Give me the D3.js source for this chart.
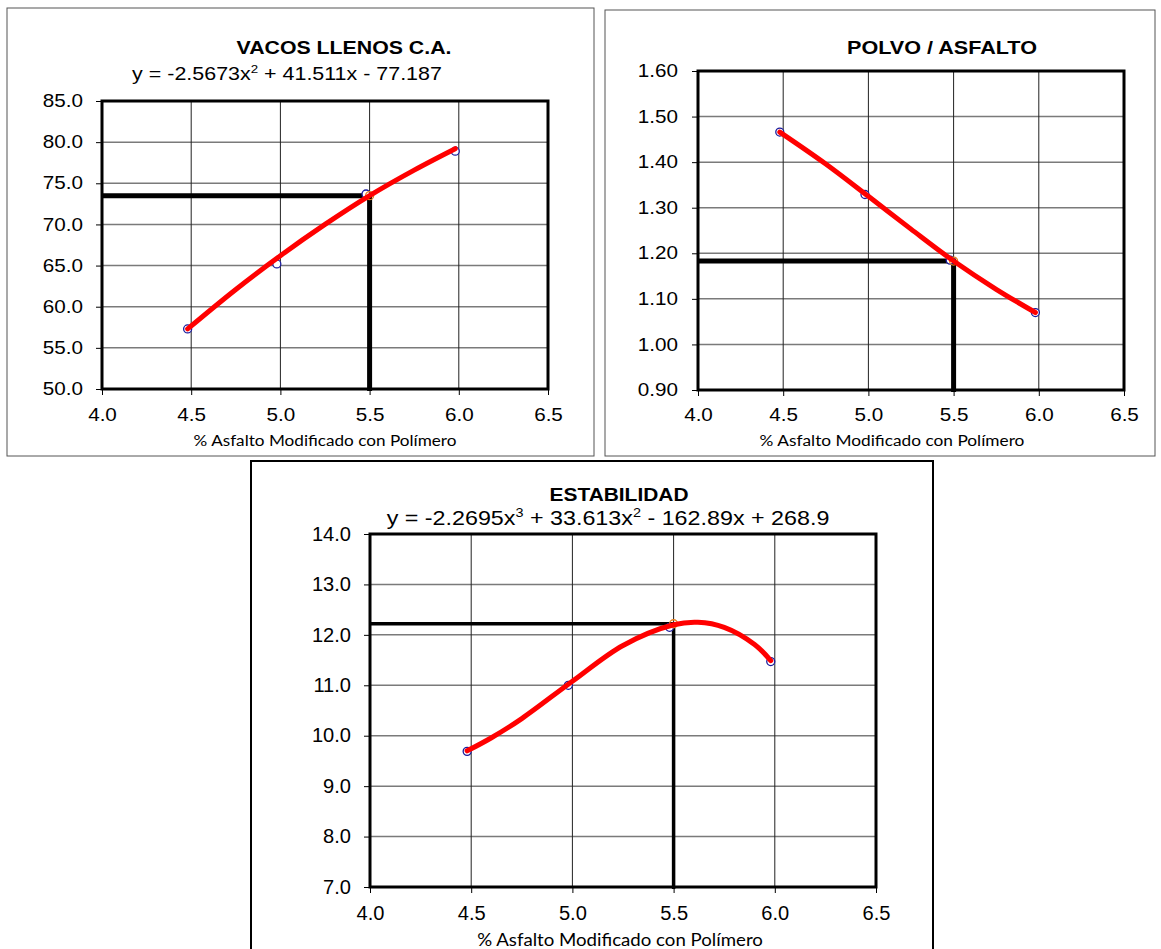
<!DOCTYPE html>
<html>
<head>
<meta charset="utf-8">
<script src="https://cdn.jsdelivr.net/npm/d3@7"></script>
<style>
  body { margin: 0; background: #fff; }
  svg { display: block; }
</style>
</head>
<body>
<svg id="chart"></svg>
<script>
// data

// x axis, shared by all three charts
let xTicks = [4.0, 4.5, 5.0, 5.5, 6.0, 6.5],
  ensayoX = [4.48, 4.98, 5.48, 5.98],
  trendX = [4.48, 4.75, 5.0, 5.25, 5.5, 5.75, 5.98],
  disenoX = 5.5;

let xTitle = "% Asfalto Modificado con Polímero";

// VACOS LLENOS C.A.
let vacosTitle = "VACOS LLENOS C.A.",
  vacosEq = ["y = -2.5673x", "2", " + 41.511x - 77.187"],
  vacosYTicks = [50, 55, 60, 65, 70, 75, 80, 85],
  vacosY = [57.3, 65.2, 73.7, 78.9],
  vacosTrendY = [57.3, 62.1, 66.2, 70.0, 73.5, 76.6, 79.2],
  vacosRef = 73.5;

// POLVO / ASFALTO
let polvoTitle = "POLVO / ASFALTO",
  polvoYTicks = [0.9, 1.0, 1.1, 1.2, 1.3, 1.4, 1.5, 1.6],
  polvoY = [1.466, 1.329, 1.185, 1.070],
  polvoTrendY = [1.466, 1.396, 1.325, 1.253, 1.183, 1.121, 1.070],
  polvoRef = 1.183;

// ESTABILIDAD
let estabTitle = "ESTABILIDAD",
  estabEq = ["y = -2.2695x", "3", " + 33.613x", "2", " - 162.89x + 268.9"],
  estabYTicks = [7, 8, 9, 10, 11, 12, 13, 14],
  estabY = [9.69, 11.0, 12.15, 11.47],
  estabTrendX = [4.48, 4.6, 4.75, 5.0, 5.25, 5.5, 5.62, 5.75, 5.9, 5.98],
  estabTrendY = [9.70, 9.96, 10.34, 11.08, 11.79, 12.20, 12.25, 12.15, 11.81, 11.49],
  estabRef = 12.22;


let svg = d3.select("#chart")
  .attr("width", 1161)
  .attr("height", 949)
  .style("font-family", "'Liberation Sans', Arial, sans-serif");

// stretch a centered text so it spans a given width
function fitText(t, cx, y, w) {
  let bw = t.node().getBBox().width;
  t.attr("transform", "translate(" + cx + "," + y + ") scale(" + (w / bw) + ",1)");
}

function drawChart(c) {
  let g = svg.append("g");

  // outer frame
  g.append("rect")
    .attr("x", c.frame[0])
    .attr("y", c.frame[1])
    .attr("width", c.frame[2] - c.frame[0])
    .attr("height", c.frame[3] - c.frame[1])
    .attr("fill", "#fff")
    .attr("stroke", c.frameColor)
    .attr("stroke-width", c.frameW);

  let x = d3.scaleLinear().domain([4.0, 6.5]).range([c.plot[0], c.plot[1]]);
  let y = d3.scaleLinear().domain(d3.extent(c.yTicks)).range([c.plot[3], c.plot[2]]);

  // grid
  g.append("g").selectAll("line")
    .data(c.yTicks)
    .enter()
    .append("line")
    .attr("x1", x(4.0)).attr("x2", x(6.5))
    .attr("y1", d => y(d)).attr("y2", d => y(d))
    .attr("stroke", "#7a7a7a")
    .attr("stroke-width", 1.5);

  g.append("g").selectAll("line")
    .data(xTicks)
    .enter()
    .append("line")
    .attr("x1", d => x(d)).attr("x2", d => x(d))
    .attr("y1", y.range()[0]).attr("y2", y.range()[1])
    .attr("stroke", "#222")
    .attr("stroke-width", 1);

  // axes
  let yAxis = d3.axisLeft(y).tickValues(c.yTicks).tickFormat(d3.format(c.yFmt)).tickSizeOuter(0);
  let yg = g.append("g")
    .attr("transform", "translate(" + x(4.0) + ",0)")
    .call(yAxis);
  yg.select(".domain").remove();
  yg.selectAll("line").attr("stroke", "#000");
  yg.selectAll("text")
    .attr("font-size", c.fs)
    .attr("fill", "#000")
    .attr("font-family", "'Liberation Sans', Arial, sans-serif")
    .attr("x", -c.yLabelOff / c.sx)
    .attr("transform", "scale(" + c.sx + ",1)");

  let xAxis = d3.axisBottom(x).tickValues(xTicks).tickFormat(d3.format(".1f")).tickSizeOuter(0);
  let xg = g.append("g")
    .attr("transform", "translate(0," + y(c.yTicks[0]) + ")")
    .call(xAxis);
  xg.select(".domain").remove();
  xg.selectAll("line").attr("stroke", "#000");
  xg.selectAll("text")
    .attr("font-size", c.fs)
    .attr("fill", "#000")
    .attr("font-family", "'Liberation Sans', Arial, sans-serif")
    .attr("dy", null)
    .attr("y", c.xLabelOff)
    .attr("x", 0)
    .attr("transform", "scale(" + c.sx + ",1)");

  // design lines at 5.5
  let yMin = c.yTicks[0];
  g.append("path")
    .attr("d", d3.line()([[x(4.0), y(c.ref)], [x(disenoX), y(c.ref)], [x(disenoX), y(yMin) + 2]]))
    .attr("fill", "none")
    .attr("stroke", "#000")
    .attr("stroke-width", c.refW);

  // points
  g.append("g").selectAll("circle")
    .data(ensayoX.map((d, i) => [d, c.values[i]]))
    .enter()
    .append("circle")
    .attr("cx", d => x(d[0]))
    .attr("cy", d => y(d[1]))
    .attr("r", 4)
    .attr("fill", "#fff")
    .attr("stroke", "#1a1a9c")
    .attr("stroke-width", 1.3);

  g.append("circle")
    .attr("cx", x(disenoX))
    .attr("cy", y(c.ref))
    .attr("r", 4)
    .attr("fill", "none")
    .attr("stroke", "#e8801e")
    .attr("stroke-width", 1.3);

  // trend line
  g.append("path")
    .datum(c.trendX.map((d, i) => [d, c.trendY[i]]))
    .attr("d", d3.line().x(d => x(d[0])).y(d => y(d[1])).curve(d3.curveCatmullRom.alpha(0.5)))
    .attr("fill", "none")
    .attr("stroke", "#ff0000")
    .attr("stroke-width", 5)
    .attr("stroke-linecap", "round");

  // plot border
  g.append("rect")
    .attr("x", c.plot[0])
    .attr("y", c.plot[2])
    .attr("width", c.plot[1] - c.plot[0])
    .attr("height", c.plot[3] - c.plot[2])
    .attr("fill", "none")
    .attr("stroke", "#000")
    .attr("stroke-width", 3);

  // title
  let t = g.append("text")
    .attr("text-anchor", "middle")
    .attr("font-weight", "bold")
    .attr("font-size", c.titleFs)
    .text(c.title);
  fitText(t, c.titleX, c.titleY, c.titleW);

  // equation
  if (c.eq) {
    let e = g.append("text")
      .attr("text-anchor", "middle")
      .attr("font-size", c.eqFs);
    c.eq.forEach((s, i) => {
      let sup = i % 2 == 1;
      e.append("tspan")
        .attr("font-size", sup ? c.eqFs * 0.62 : c.eqFs)
        .attr("dy", sup ? -c.eqFs * 0.38 : (i > 0 ? c.eqFs * 0.38 : 0))
        .text(s);
    });
    fitText(e, c.eqX, c.eqY, c.eqW);
  }

  // x axis title
  let xt = g.append("text")
    .attr("text-anchor", "middle")
    .attr("font-family", "Lato, 'Open Sans', sans-serif")
    .attr("font-size", c.xtFs)
    .text(xTitle);
  fitText(xt, c.xtX, c.xtY, c.xtW);
}

drawChart({
  frame: [7, 8, 594, 456], frameColor: "#555", frameW: 1,
  plot: [102, 548, 101, 389],
  yTicks: vacosYTicks, yFmt: ".1f", values: vacosY,
  trendX: trendX, trendY: vacosTrendY, ref: vacosRef,
  fs: 17.5, sx: 1.18, yLabelOff: 19, xLabelOff: 32, refW: 5,
  title: vacosTitle, titleFs: 19, titleX: 344, titleY: 54, titleW: 215,
  eq: vacosEq, eqFs: 17.5, eqX: 287, eqY: 80, eqW: 310,
  xtFs: 16, xtX: 325, xtY: 446, xtW: 263
});

drawChart({
  frame: [605, 10, 1155, 456], frameColor: "#555", frameW: 1,
  plot: [698, 1124, 71, 390],
  yTicks: polvoYTicks, yFmt: ".2f", values: polvoY,
  trendX: trendX, trendY: polvoTrendY, ref: polvoRef,
  fs: 17.5, sx: 1.18, yLabelOff: 20, xLabelOff: 31, refW: 5,
  title: polvoTitle, titleFs: 19, titleX: 942, titleY: 54, titleW: 190,
  eq: null,
  xtFs: 16, xtX: 892, xtY: 446, xtW: 265
});

drawChart({
  frame: [251, 461, 933, 975], frameColor: "#000", frameW: 2,
  plot: [370, 876, 534, 887],
  yTicks: estabYTicks, yFmt: ".1f", values: estabY,
  trendX: estabTrendX, trendY: estabTrendY, ref: estabRef,
  fs: 19.5, sx: 1.03, yLabelOff: 19, xLabelOff: 33, refW: 3.5,
  title: estabTitle, titleFs: 19, titleX: 619, titleY: 501, titleW: 139,
  eq: estabEq, eqFs: 20, eqX: 608, eqY: 525, eqW: 443,
  xtFs: 17, xtX: 620, xtY: 946, xtW: 286
});
</script>
</body>
</html>
